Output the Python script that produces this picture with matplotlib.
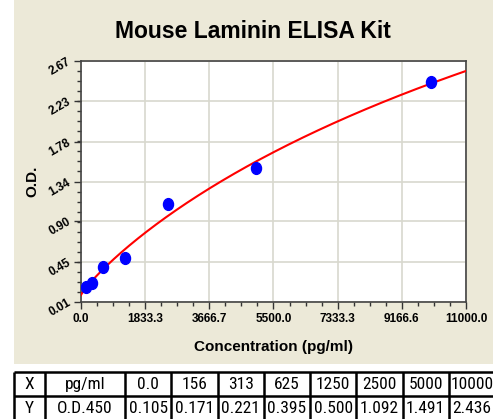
import numpy as np
import matplotlib
matplotlib.use('Agg')
import matplotlib.pyplot as plt
from matplotlib.markers import MarkerStyle
from matplotlib.transforms import Affine2D
from matplotlib.patches import Rectangle

# data from the standard table
conc = [0, 156, 313, 625, 1250, 2500, 5000, 10000]
od = [0.105, 0.171, 0.221, 0.395, 0.500, 1.092, 1.491, 2.436]
conc_labels = ['0.0', '156', '313', '625', '1250', '2500', '5000', '10000']
od_labels = ['0.105', '0.171', '0.221', '0.395', '0.500', '1.092', '1.491', '2.436']
xticks = [0.0, 1833.3, 3666.7, 5500.0, 7333.3, 9166.6, 11000.0]
yticks = [0.01, 0.45, 0.90, 1.34, 1.78, 2.23, 2.67]

W, H = 493, 419
BEIGE = '#ECE9D8'

# four parameter logistic fit (grid over b, c; a, d by least squares)
x = np.array(conc, dtype=float)
y = np.array(od)
best = None
for b in np.linspace(0.3, 2.5, 221):
    for c in np.logspace(2.5, 6, 300):
        g = 1.0 / (1.0 + (x / c) ** b)
        A = np.column_stack([g, 1 - g])
        coef, res, _, _ = np.linalg.lstsq(A, y, rcond=None)
        err = np.sum((A @ coef - y) ** 2)
        if best is None or err < best[0]:
            best = (err, b, c, coef)
_, b, c, (a, d) = best
xf = np.linspace(0, 11000, 400)
yf = d + (a - d) / (1.0 + (xf / c) ** b)

fig = plt.figure(figsize=(W / 100, H / 100), dpi=100)
fig.patch.set_facecolor('white')
fig.patches.append(Rectangle((14 / W, 1 - 364 / H), 1, 364 / H, transform=fig.transFigure,
                             facecolor=BEIGE, edgecolor='none', zorder=-10))

ax = fig.add_axes([81 / W, 1 - 302 / H, (466 - 81) / W, (302 - 61) / H])
ax.set_facecolor('white')
ax.set_xlim(0, 11000)
ax.set_ylim(0.01, 2.67)
ax.set_xticks(xticks)
ax.set_yticks(yticks)
ax.set_xticklabels(['%.1f' % v for v in xticks], fontsize=8.5, fontweight='bold',
                   family='Liberation Sans')
ax.set_yticklabels(['%.2f' % v for v in yticks], fontsize=8.5, fontweight='bold',
                   family='Liberation Sans', rotation=30, ha='right', va='center',
                   rotation_mode='anchor')
ax.set_xticks(np.linspace(0, 11000, 25), minor=True)
ax.set_yticks(np.linspace(0.01, 2.67, 25), minor=True)
ax.tick_params(which='major', direction='out', length=5, width=1, color='#333333', pad=3)
ax.tick_params(which='minor', direction='out', length=3, width=1, color='#333333')
ax.grid(True, which='major', color='#d8d8ce', linewidth=1.2)
ax.set_axisbelow(True)
for s in ax.spines.values():
    s.set_color('#444444')
    s.set_linewidth(1.2)

ax.plot(xf, yf, color='#ff0000', lw=1.5, zorder=3)
dot = MarkerStyle('o', transform=Affine2D().scale(0.85, 1.0))
ax.plot(conc[1:], od[1:], linestyle='none', marker=dot, markersize=8.5,
        color='#0000ff', zorder=4)

ax.set_xlabel('Concentration (pg/ml)', fontsize=11, fontweight='bold',
              family='Liberation Sans', va='center')
ax.xaxis.set_label_coords(0.5, -45 / 241)
ax.set_ylabel('O.D.', fontsize=11, fontweight='bold', family='Liberation Sans',
              va='center')
ax.yaxis.set_label_coords(-49 / 385, 0.5)

fig.text(253 / W, 1 - 31 / H, 'Mouse Laminin ELISA Kit', ha='center', va='center',
         fontsize=16.5, fontweight='bold', family='Liberation Sans')

# table below the chart, drawn in pixel coordinates
tax = fig.add_axes([0, 0, 1, 1])
tax.set_xlim(0, W)
tax.set_ylim(H, 0)
tax.axis('off')
edges = [14, 45, 125] + list(125 + 46.25 * np.arange(1, 9))
rows = [372, 395.5, 419.5]
tfont = dict(family=['Roboto Condensed', 'Liberation Sans'], fontsize=12.5,
             ha='center', va='center')
for e in edges:
    tax.plot([e, e], [rows[0], rows[-1]], color='black', lw=1.8, solid_capstyle='butt')
for r in rows:
    tax.plot([edges[0], edges[-1]], [r, r], color='black', lw=1.8, solid_capstyle='butt')
row_cells = [['X', 'pg/ml'] + conc_labels, ['Y', 'O.D.450'] + od_labels]
for i, cells in enumerate(row_cells):
    yc = (rows[i] + rows[i + 1]) / 2
    for j, txt in enumerate(cells):
        xc = (edges[j] + edges[j + 1]) / 2
        tax.text(xc, yc + 0.5, txt, **tfont)

fig.savefig('out.png', dpi=100, facecolor=fig.get_facecolor())
